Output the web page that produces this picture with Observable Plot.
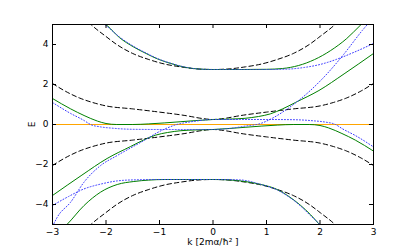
<!DOCTYPE html>
<html>
<head>
<meta charset="utf-8">
<script src="https://cdn.jsdelivr.net/npm/d3@7"></script>
<script src="https://cdn.jsdelivr.net/npm/@observablehq/plot@0.6"></script>
<style>
  html, body { margin: 0; padding: 0; background: #fff; }
  #chart { width: 415px; height: 250px; }
</style>
</head>
<body>
<div id="chart"></div>
<script>
// Tick labels
const xTicks = [-3, -2, -1, 0, 1, 2, 3];
const yTicks = [-4, -2, 0, 2, 4];

// Black dashed: outer bands
const dashOuterK = [-3, -2.5, -2.26, -2.0, -1.8, -1.5, -1.2, -0.9, -0.6, -0.3, 0, 0.3, 0.6, 0.9, 1.2, 1.5, 1.8, 2.0, 2.26, 2.5, 3];
const dashOuterUpE = [7.0, 5.6, 4.95, 4.4, 4.0, 3.55, 3.25, 3.02, 2.88, 2.78, 2.75, 2.78, 2.88, 3.02, 3.25, 3.55, 4.0, 4.4, 4.95, 5.6, 7.0];
const dashOuterLoE = [-7.0, -5.6, -4.95, -4.4, -4.0, -3.55, -3.25, -3.02, -2.88, -2.78, -2.75, -2.78, -2.88, -3.02, -3.25, -3.55, -4.0, -4.4, -4.95, -5.6, -7.0];

// Black dashed: inner bands
const dashInnerK = [-3, -2.75, -2.5, -2.25, -2.0, -1.5, -1.0, -0.5, -0.2, 0, 0.2, 0.5, 1.0, 1.5, 2.0, 2.25, 2.5, 2.75, 3];
const dashInnerUpE = [2.05, 1.65, 1.33, 1.1, 0.93, 0.78, 0.62, 0.44, 0.3, 0.25, 0.3, 0.44, 0.62, 0.78, 0.93, 1.1, 1.33, 1.65, 2.05];
const dashInnerLoE = [-2.05, -1.65, -1.33, -1.1, -0.93, -0.78, -0.62, -0.44, -0.3, -0.25, -0.3, -0.44, -0.62, -0.78, -0.93, -1.1, -1.33, -1.65, -2.05];

// Green solid
const greenUpOuterK = [-2.1, -1.98, -1.75, -1.48, -1.25, -1.04, -0.75, -0.54, -0.25, 0, 0.5, 1.0, 1.3, 1.6, 1.9, 2.2, 2.5, 2.75, 2.85];
const greenUpOuterE = [5.2, 4.95, 4.35, 3.87, 3.55, 3.28, 3.02, 2.87, 2.77, 2.75, 2.75, 2.76, 2.8, 2.95, 3.25, 3.7, 4.3, 4.95, 5.2];
const greenLoOuterK = [-2.85, -2.73, -2.41, -2.1, -1.79, -1.48, -1.2, -0.9, -0.5, 0, 0.3, 0.6, 0.9, 1.2, 1.42, 1.64, 1.82, 1.98, 2.1];
const greenLoOuterE = [-5.3, -5.0, -4.05, -3.38, -3.0, -2.85, -2.78, -2.75, -2.75, -2.75, -2.77, -2.85, -3.0, -3.25, -3.6, -4.05, -4.5, -4.97, -5.3];
const greenUpInnerK = [-3, -2.66, -2.41, -2.16, -2.0, -1.8, -1.5, -1.2, -0.9, -0.6, -0.3, 0, 0.3, 0.6, 0.85, 1.07, 1.3, 1.54, 1.98, 2.45, 3];
const greenUpInnerE = [1.3, 0.78, 0.45, 0.17, 0.05, 0.0, 0.0, 0.03, 0.08, 0.14, 0.2, 0.25, 0.27, 0.31, 0.4, 0.53, 0.78, 1.1, 1.7, 2.53, 3.55];
const greenLoInnerK = [-3, -2.45, -1.98, -1.54, -1.3, -1.07, -0.85, -0.6, -0.3, 0, 0.3, 0.6, 0.9, 1.2, 1.5, 1.8, 2.0, 2.16, 2.41, 2.66, 3];
const greenLoInnerE = [-3.55, -2.53, -1.7, -1.1, -0.78, -0.53, -0.4, -0.31, -0.27, -0.25, -0.2, -0.14, -0.08, -0.03, 0.0, 0.0, -0.05, -0.17, -0.45, -0.78, -1.33];

// Blue dotted
const dotUpOuterK = [-2.1, -2.0, -1.75, -1.48, -1.25, -1.04, -0.75, -0.54, -0.25, 0, 0.5, 1.0, 1.4, 1.7, 2.0, 2.3, 2.6, 3];
const dotUpOuterE = [5.15, 4.95, 4.38, 3.9, 3.57, 3.3, 3.03, 2.88, 2.77, 2.75, 2.75, 2.75, 2.77, 2.85, 3.0, 3.25, 3.57, 4.05];
const dotLoOuterK = [-3, -2.7, -2.41, -2.1, -1.79, -1.5, -1.0, -0.5, 0, 0.5, 0.9, 1.2, 1.42, 1.64, 1.82, 2.0, 2.1];
const dotLoOuterE = [-4.05, -3.6, -3.22, -2.98, -2.82, -2.77, -2.75, -2.75, -2.75, -2.77, -3.0, -3.27, -3.62, -4.08, -4.55, -5.0, -5.3];
const dotSteepUpK = [-3, -2.66, -2.41, -2.29, -2.1, -1.9, -1.5, -1.0, -0.5, 0, 0.3, 0.6, 0.9, 1.1, 1.39, 1.82, 2.13, 2.45, 2.79, 2.95];
const dotSteepUpE = [1.1, 0.55, 0.2, 0.0, -0.12, -0.18, -0.24, -0.25, -0.25, -0.25, -0.2, -0.08, 0.06, 0.3, 0.78, 1.7, 2.53, 3.53, 4.7, 5.2];
const dotSteepLoK = [-3.0, -2.91, -2.66, -2.41, -2.1, -1.79, -1.29, -1.0, -0.7, -0.35, 0, 0.5, 1.0, 1.5, 1.9, 2.1, 2.29, 2.41, 2.66, 3];
const dotSteepLoE = [-5.1, -4.63, -3.88, -2.88, -2.05, -1.55, -0.8, -0.35, -0.02, 0.16, 0.25, 0.25, 0.25, 0.24, 0.18, 0.12, 0.0, -0.2, -0.55, -1.12];

const rows = (ks, es) => ks.map((k, i) => ({k, E: es[i]}));
const fmt = d => (d < 0 ? "\u2212" : "") + Math.abs(d);

const dashed = [[dashOuterK, dashOuterUpE], [dashOuterK, dashOuterLoE], [dashInnerK, dashInnerUpE], [dashInnerK, dashInnerLoE]];
const green = [[greenUpOuterK, greenUpOuterE], [greenLoOuterK, greenLoOuterE], [greenUpInnerK, greenUpInnerE], [greenLoInnerK, greenLoInnerE]];
const dotted = [[dotUpOuterK, dotUpOuterE], [dotLoOuterK, dotLoOuterE], [dotSteepUpK, dotSteepUpE], [dotSteepLoK, dotSteepLoE]];

const lineMarks = [];
for (const [ks, es] of dashed) lineMarks.push(Plot.line(rows(ks, es), {x: "k", y: "E", stroke: "#000", strokeWidth: 1, strokeDasharray: "4.5,3", curve: "monotone-x", clip: true}));
for (const [ks, es] of green) lineMarks.push(Plot.line(rows(ks, es), {x: "k", y: "E", stroke: "#008000", strokeWidth: 1, curve: "monotone-x", clip: true}));
for (const [ks, es] of dotted) lineMarks.push(Plot.line(rows(ks, es), {x: "k", y: "E", stroke: "#3a3aff", strokeWidth: 1, strokeDasharray: "1,2", curve: "monotone-x", clip: true}));

const chart = Plot.plot({
  width: 415,
  height: 250,
  marginLeft: 52,
  marginRight: 42,
  marginTop: 24,
  marginBottom: 26,
  style: {fontFamily: "DejaVu Sans", fontSize: "9px", background: "#fff", color: "#000"},
  x: {domain: [-3, 3]},
  y: {domain: [-5, 5]},
  marks: [
    Plot.ruleY([0], {stroke: "#ffa500", strokeWidth: 1}),
    ...lineMarks,
    Plot.ruleX(xTicks, {x: d => d, y1: -5, y2: -4.8, stroke: "#000"}),
    Plot.ruleX(xTicks, {x: d => d, y1: 4.8, y2: 5, stroke: "#000"}),
    Plot.ruleY(yTicks, {y: d => d, x1: -3, x2: -2.925, stroke: "#000"}),
    Plot.ruleY(yTicks, {y: d => d, x1: 2.925, x2: 3, stroke: "#000"}),
    Plot.frame({stroke: "#000", strokeWidth: 1}),
    Plot.axisX({ticks: xTicks, tickFormat: fmt, tickSize: 0, tickPadding: 4, label: "k [2mα/ħ² ]", labelAnchor: "center", labelArrow: "none", labelOffset: 20}),
    Plot.axisY({ticks: yTicks, tickFormat: fmt, tickSize: 0, tickPadding: 4, label: "E", labelAnchor: "center", labelArrow: "none", labelOffset: 24})
  ]
});
document.getElementById("chart").appendChild(chart);
</script>
</body>
</html>
